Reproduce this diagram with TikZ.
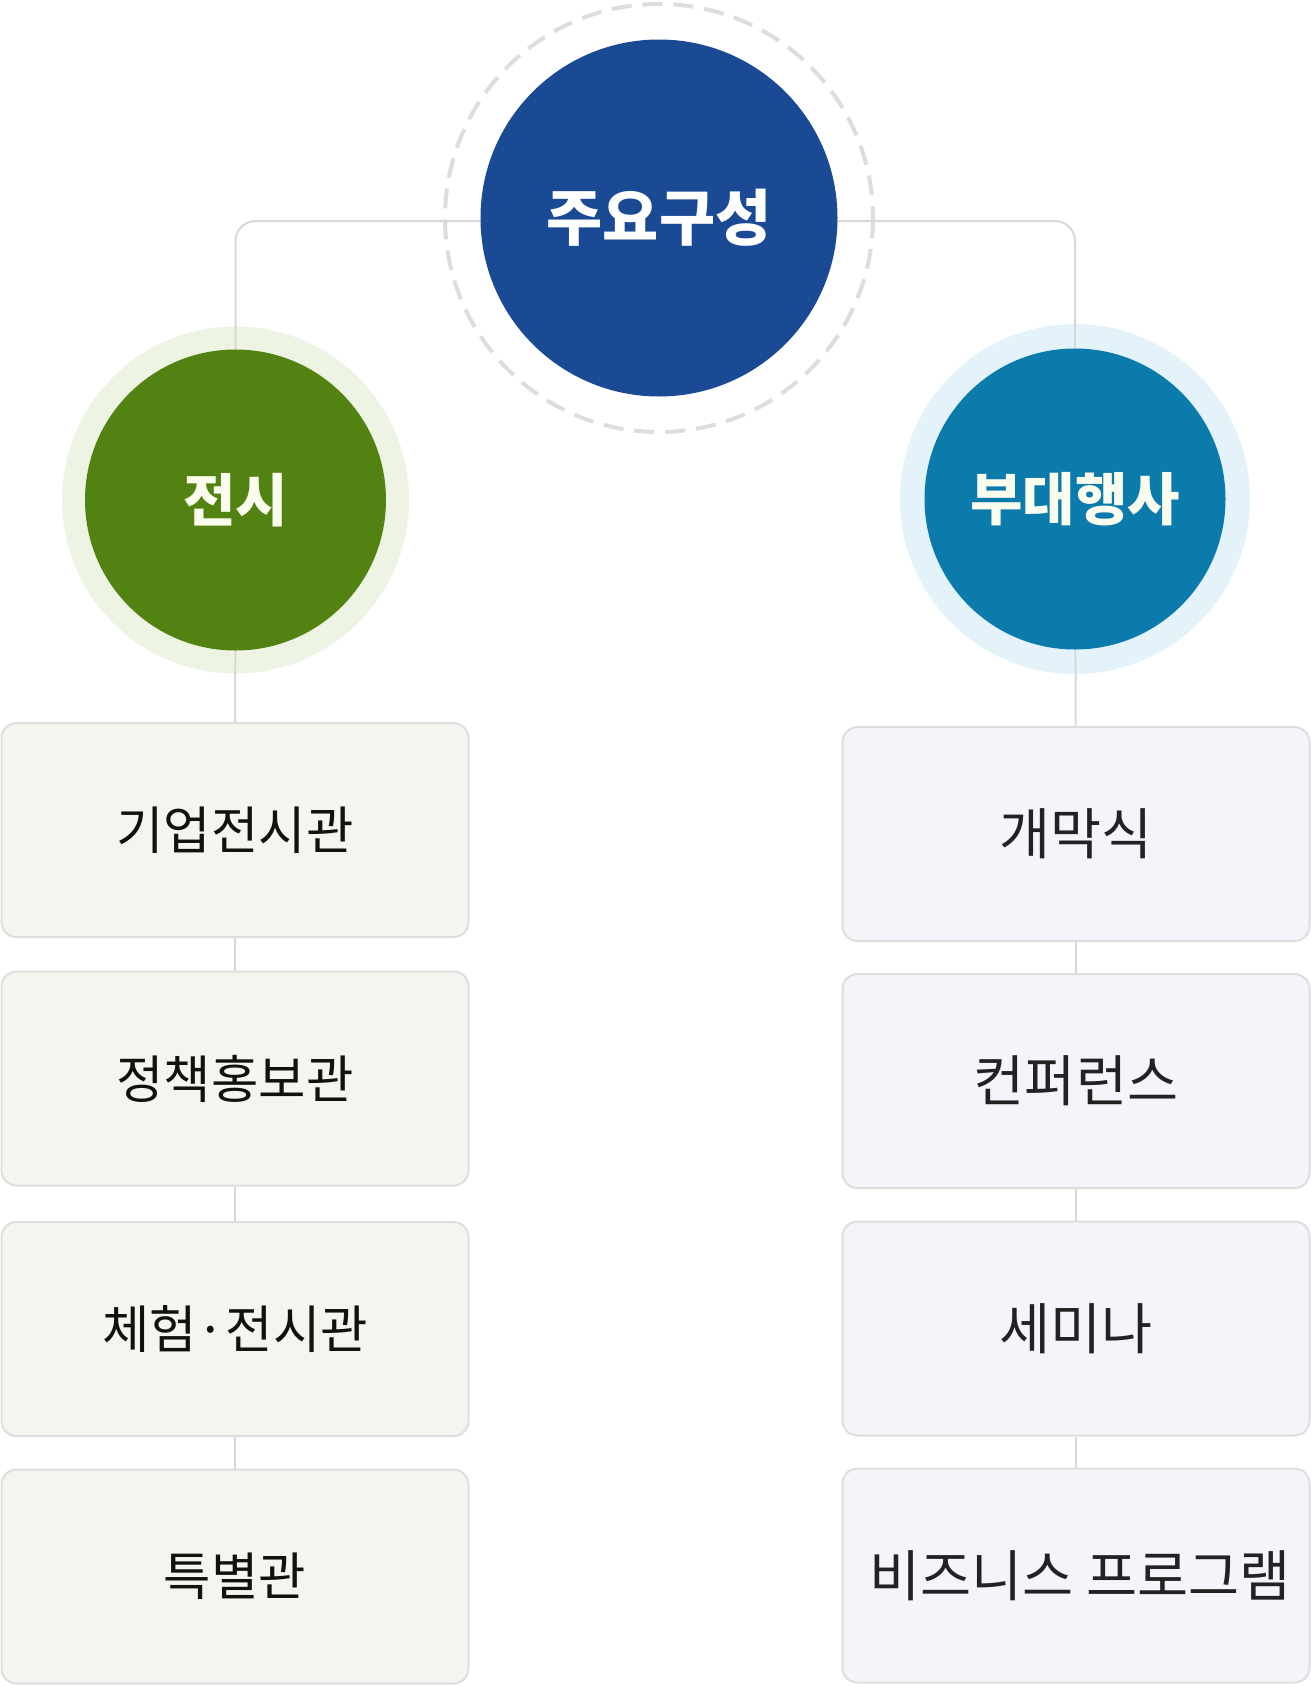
\documentclass[tikz,border=0pt]{standalone}
\usepackage{fontspec}
\newfontfamily\kr{Noto Sans CJK KR}
\definecolor{mainblue}{HTML}{1B4A94}
\definecolor{exgreen}{HTML}{528211}
\definecolor{evteal}{HTML}{0B7BAB}
\definecolor{halog}{HTML}{EEF4E3}
\definecolor{halob}{HTML}{E4F3FA}
\definecolor{dashcol}{HTML}{DDDDDD}
\definecolor{conncol}{HTML}{D8D8D8}
\definecolor{boxg}{HTML}{F4F5EE}
\definecolor{boxb}{HTML}{F3F5FA}
\definecolor{boxline}{HTML}{DEDEDE}
\definecolor{txtl}{HTML}{111111}
\definecolor{txtr}{HTML}{222222}
\definecolor{cream}{HTML}{FAFCEE}
\pgfdeclarelayer{bg}
\pgfdeclarelayer{halo}
\pgfdeclarelayer{back}
\pgfsetlayers{bg,halo,back,main}
\tikzset{
  hub/.style={circle, inner sep=0pt, minimum size=357, fill=mainblue, text=white,
    font=\kr\bfseries\fontsize{61}{70}\selectfont},
  sub/.style={circle, inner sep=0pt, minimum size=301, text=cream,
    font=\kr\bfseries\fontsize{57}{64}\selectfont},
  conn/.style={draw=conncol, line width=2},
  itemg/.style={rectangle, rounded corners=15, minimum width=467, minimum height=214,
    fill=boxg, draw=boxline, line width=2, text=txtl, inner sep=0pt,
    font=\kr\fontsize{51.5}{60}\selectfont},
  itemb/.style={itemg, fill=boxb, text=txtr, font=\kr\fontsize{55.5}{64}\selectfont}
}
\begin{document}
\begin{tikzpicture}[x=1pt, y=-1pt]
\begin{pgfonlayer}{bg}
\fill[white] (0,0) rectangle (1311,1686);
\end{pgfonlayer}
\useasboundingbox (0,0) rectangle (1311,1686);
% nodes
\node[hub] (hub) at (659,218) {주요구성};
\node[sub, fill=exgreen] (ex) at (235.5,500) {전시};
\node[sub, fill=evteal] (ev) at (1075,499) {부대행사};
\node[itemg] (g1) at (235,830) {기업전시관};
\node[itemg] (g2) at (235,1078.5) {정책홍보관};
\node[itemg] (g3) at (235,1329) {체험\makebox[29pt]{·}전시관};
\node[itemg] (g4) at (235,1576.5) {특별관};
\node[itemb] (b1) at (1076,834) {개막식};
\node[itemb] (b2) at (1076,1081) {컨퍼런스};
\node[itemb] (b3) at (1076,1328.5) {세미나};
\node[itemb] (b4) at (1076,1575.5) {\hspace*{8pt}비즈니스 프로그램};
\begin{pgfonlayer}{halo}
  \fill[halog] (ex.center) circle (173.5);
  \fill[halob] (ev.center) circle (175);
  \draw[dashcol, line width=4, dash pattern=on 20 off 11] (hub.center) circle (214);
\end{pgfonlayer}
\begin{pgfonlayer}{back}
  \draw[conn, rounded corners=20] ([yshift=-3]hub.center) -| (ex.center);
  \draw[conn, rounded corners=20] ([yshift=-3]hub.center) -| (ev.center);
  \draw[conn] (ex.center) -- (g1.center);
  \draw[conn] (g1) -- (g2);
  \draw[conn] (g2) -- (g3);
  \draw[conn] (g3) -- (g4);
  \draw[conn] (ev.center) -- (b1.center);
  \draw[conn] (b1) -- (b2);
  \draw[conn] (b2) -- (b3);
  \draw[conn] (b3) -- (b4);
\end{pgfonlayer}
\end{tikzpicture}
\end{document}
